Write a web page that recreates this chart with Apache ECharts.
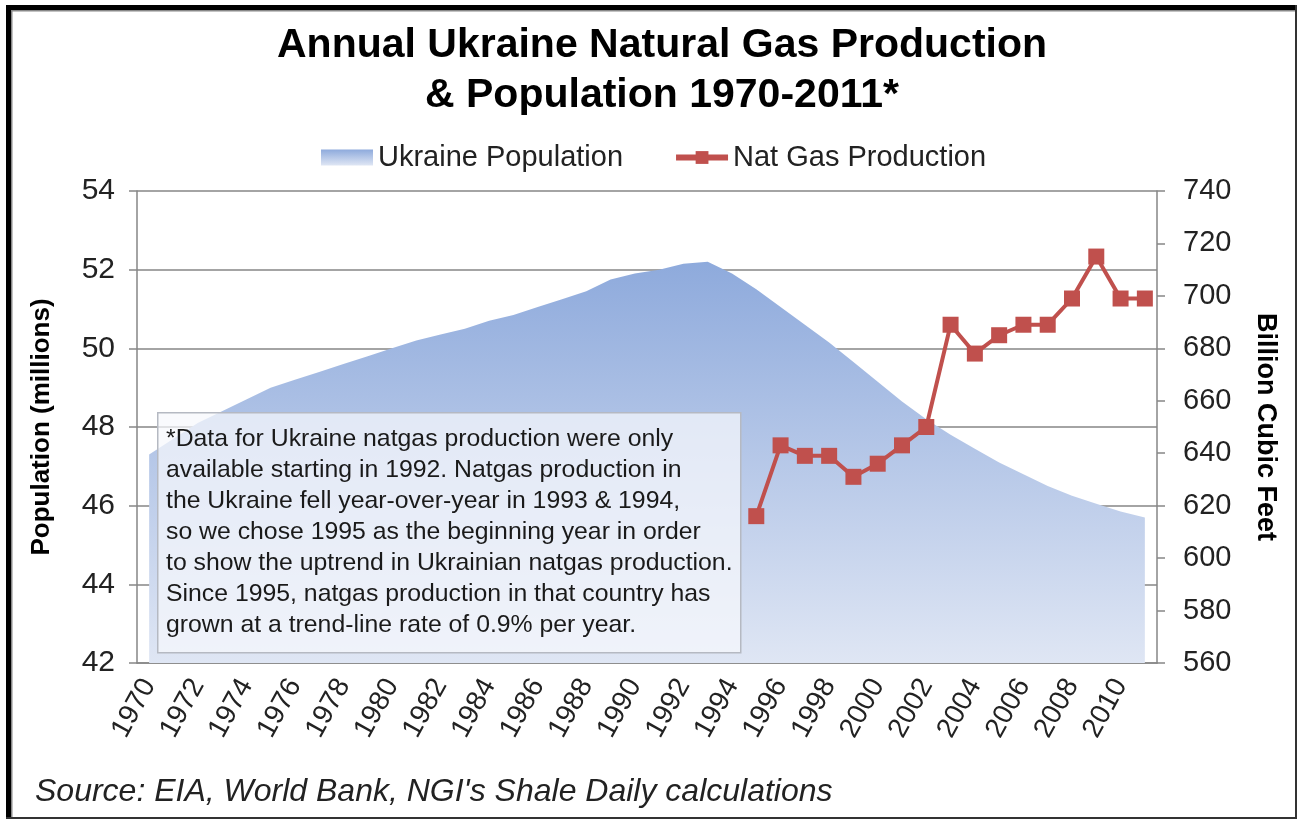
<!DOCTYPE html>
<html>
<head>
<meta charset="utf-8">
<script src="https://cdn.jsdelivr.net/npm/echarts@6/dist/echarts.min.js"></script>
<style>
  html, body { margin: 0; padding: 0; background: #fff; }
  #chart { width: 1299px; height: 821px; }
</style>
</head>
<body>
<div id="chart"></div>
<script>
// years on the category axis
const years = [];
for (let y = 1970; y <= 2011; y++) years.push(String(y));

// Ukraine population, millions
const population = [
  47.3, 47.7, 48.1, 48.4, 48.7, 49.0, 49.2, 49.4, 49.6, 49.8,
  50.0, 50.2, 50.35, 50.5, 50.7, 50.85, 51.05, 51.25, 51.45, 51.75,
  51.9, 52.0, 52.15, 52.2, 51.9, 51.5, 51.05, 50.6, 50.15, 49.65,
  49.15, 48.65, 48.2, 47.8, 47.45, 47.1, 46.8, 46.5, 46.25, 46.05,
  45.85, 45.7
];

// nat gas production, billion cubic feet (only from 1995)
const gasProduction = [
  null, null, null, null, null, null, null, null, null, null,
  null, null, null, null, null, null, null, null, null, null,
  null, null, null, null, null, 616, 643, 639, 639, 631,
  636, 643, 650, 689, 678, 685, 689, 689, 699, 715,
  699, 699
];

const noteLines = [
  '*Data for Ukraine natgas production were only',
  'available starting in 1992. Natgas production in',
  'the Ukraine fell year-over-year in 1993 & 1994,',
  'so we chose 1995 as the beginning year in order',
  'to show the uptrend in Ukrainian natgas production.',
  'Since 1995, natgas production in that country has',
  'grown at a trend-line rate of 0.9% per year.'
];

const font = '"Liberation Sans", Arial, sans-serif';
const gridGray = '#868686';
const areaFill = new echarts.graphic.LinearGradient(0, 0, 0, 1, [
  { offset: 0, color: '#8eaadc' },
  { offset: 1, color: '#dfe6f4' }
]);

const chart = echarts.init(document.getElementById('chart'));
chart.setOption({
  animation: false,
  backgroundColor: '#fff',
  textStyle: { fontFamily: font },
  title: {
    text: 'Annual Ukraine Natural Gas Production\n& Population 1970-2011*',
    left: 657,
    textAlign: 'center',
    top: 16,
    textStyle: { fontSize: 41, fontWeight: 'bold', color: '#000', lineHeight: 50, fontFamily: font }
  },
  legend: {
    top: 138,
    left: 316,
    itemWidth: 52,
    itemHeight: 16,
    itemGap: 50,
    textStyle: { fontSize: 29, color: '#222', fontFamily: font },
    data: [
      { name: 'Ukraine Population', icon: 'rect', itemStyle: { color: areaFill } },
      { name: 'Nat Gas Production', lineStyle: { width: 6 } }
    ]
  },
  grid: { left: 137, right: 142, top: 191, bottom: 158 },
  xAxis: {
    type: 'category',
    data: years,
    boundaryGap: true,
    axisLine: { lineStyle: { color: gridGray, width: 1.5 } },
    axisTick: { interval: 0, length: 7, lineStyle: { color: gridGray, width: 1.5 } },
    axisLabel: { interval: 1, rotate: 61, fontSize: 28, color: '#222', margin: 18, fontFamily: font }
  },
  yAxis: [
    {
      type: 'value',
      min: 42, max: 54, interval: 2,
      name: 'Population (millions)',
      nameLocation: 'middle',
      nameGap: 82,
      nameTextStyle: { fontSize: 26, fontWeight: 'bold', color: '#000', fontFamily: font },
      axisLine: { show: true, lineStyle: { color: gridGray, width: 1.5 } },
      axisTick: { show: true, length: 8, lineStyle: { color: gridGray, width: 1.5 } },
      axisLabel: { fontSize: 30, color: '#222', margin: 22, fontFamily: font },
      splitLine: { lineStyle: { color: gridGray, width: 1.5 } }
    },
    {
      type: 'value',
      min: 560, max: 740, interval: 20,
      name: 'Billion Cubic Feet',
      nameLocation: 'middle',
      nameRotate: -90,
      nameGap: 95,
      nameTextStyle: { fontSize: 27, fontWeight: 'bold', color: '#000', fontFamily: font },
      axisLine: { show: true, lineStyle: { color: gridGray, width: 1.5 } },
      axisTick: { show: true, length: 8, lineStyle: { color: gridGray, width: 1.5 } },
      axisLabel: { fontSize: 29, color: '#222', margin: 26, fontFamily: font },
      splitLine: { show: false }
    }
  ],
  series: [
    {
      name: 'Ukraine Population',
      type: 'line',
      data: population,
      symbol: 'none',
      color: '#8eaadc',
      lineStyle: { width: 0 },
      areaStyle: { color: areaFill, opacity: 1 },
      z: 1
    },
    {
      name: 'Nat Gas Production',
      type: 'line',
      yAxisIndex: 1,
      data: gasProduction,
      color: '#c0504d',
      symbol: 'rect',
      symbolSize: 16,
      lineStyle: { width: 4, color: '#c0504d' },
      itemStyle: { color: '#c0504d' },
      z: 3
    }
  ],
  graphic: [
    {
      type: 'rect', left: 157, top: 412, z: 10,
      shape: { width: 583, height: 240 },
      style: { fill: 'rgba(246,248,252,0.72)', stroke: '#b5b9c2', lineWidth: 1.5 }
    },
    {
      type: 'text', left: 166, top: 424, z: 11,
      style: {
        text: noteLines.join('\n'),
        font: '24.8px ' + font,
        fill: '#1a1a1a',
        lineHeight: 31
      }
    },
    {
      type: 'text', left: 35, top: 776, z: 11,
      style: { text: "Source: EIA, World Bank, NGI's Shale Daily calculations", font: 'italic 32px ' + font, fill: '#222' }
    },
    // frame
    { type: 'rect', left: 6, top: 5, z: 20, shape: { width: 5, height: 813 }, style: { fill: '#000' } },
    { type: 'rect', left: 6, top: 5, z: 20, shape: { width: 1290, height: 5 }, style: { fill: '#000' } },
    { type: 'rect', left: 11, top: 10, z: 20, shape: { width: 1.5, height: 808 }, style: { fill: '#888' } },
    { type: 'rect', left: 11, top: 10, z: 20, shape: { width: 1285, height: 1.5 }, style: { fill: '#888' } },
    { type: 'rect', left: 1295, top: 5, z: 20, shape: { width: 2, height: 814 }, style: { fill: '#333' } },
    { type: 'rect', left: 6, top: 817, z: 20, shape: { width: 1291, height: 2 }, style: { fill: '#333' } }
  ]
});
</script>
</body>
</html>
